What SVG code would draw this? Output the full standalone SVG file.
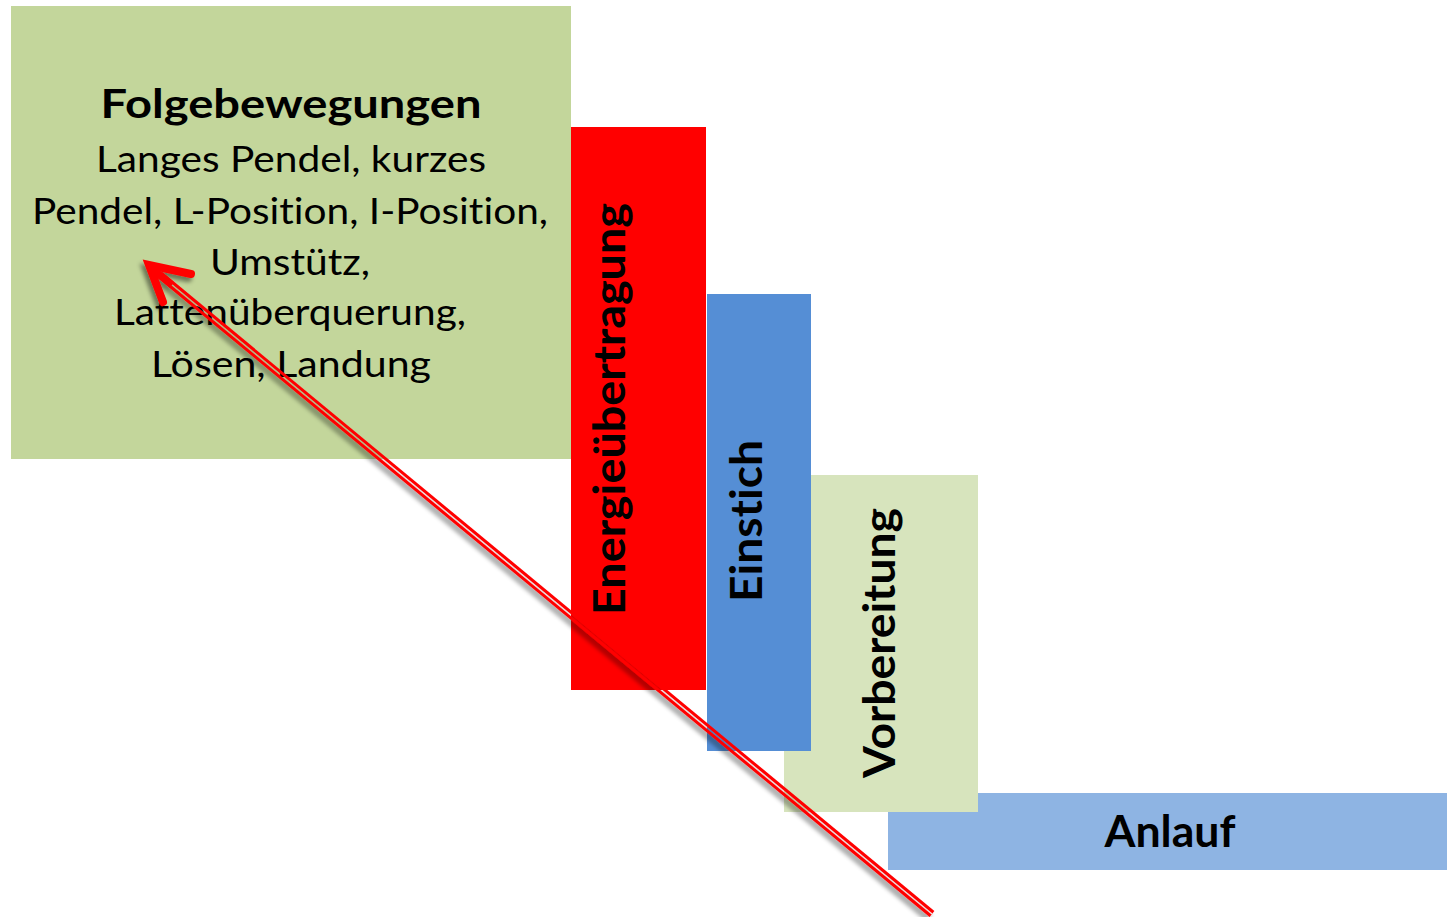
<svg xmlns="http://www.w3.org/2000/svg" width="1447" height="917" viewBox="0 0 1447 917">
<style>
.t{font-family:Lato,"Open Sans","Liberation Sans",sans-serif;fill:#000;font-variant-ligatures:none;font-feature-settings:"liga" 0}
.b{font-weight:bold}
.n{font-size:36px}
.v{font-size:44px;font-weight:bold}
</style>
<defs>
<filter id="sh" x="-10%" y="-10%" width="120%" height="120%">
<feDropShadow dx="-3" dy="4" stdDeviation="2" flood-color="#000" flood-opacity="0.45"/>
</filter>
<mask id="gap" maskUnits="userSpaceOnUse" x="0" y="0" width="1447" height="917">
<rect x="0" y="0" width="1447" height="917" fill="#fff"/>
<line x1="932" y1="914" x2="160" y2="275" stroke="#000" stroke-width="1.5"/>
</mask>
</defs>
<rect width="1447" height="917" fill="#fff"/>
<g id="anlauf">
<rect x="888" y="793" width="559" height="77" fill="#8EB4E3"/>
<text class="t b" x="1170" y="847" font-size="44" text-anchor="middle" textLength="131" lengthAdjust="spacingAndGlyphs">Anlauf</text>
</g>
<g id="vorbereitung">
<rect x="784" y="475" width="194" height="337" fill="#D7E4BD"/>
<text class="t v" transform="translate(895,643) rotate(-90)" text-anchor="middle" textLength="270" lengthAdjust="spacingAndGlyphs">Vorbereitung</text>
</g>
<g id="einstich">
<rect x="707" y="294" width="104" height="457" fill="#558ED5"/>
<text class="t v" transform="translate(762,521) rotate(-90)" text-anchor="middle" textLength="162" lengthAdjust="spacingAndGlyphs">Einstich</text>
</g>
<g id="energie">
<rect x="571" y="127" width="135" height="563" fill="#FF0000"/>
<text class="t v" transform="translate(625,409) rotate(-90)" text-anchor="middle" textLength="412" lengthAdjust="spacingAndGlyphs">Energieübertragung</text>
</g>
<g id="folgebewegungen">
<rect x="11" y="6" width="560" height="453" fill="#C3D69B"/>
<text class="t b" x="291" y="118" font-size="40" text-anchor="middle" textLength="381" lengthAdjust="spacingAndGlyphs">Folgebewegungen</text>
<text class="t n" x="291" y="172" text-anchor="middle" textLength="390" lengthAdjust="spacingAndGlyphs">Langes Pendel, kurzes</text>
<text class="t n" x="290" y="224" text-anchor="middle" textLength="516" lengthAdjust="spacingAndGlyphs">Pendel, L-Position, I-Position,</text>
<text class="t n" x="290" y="275" text-anchor="middle" textLength="160" lengthAdjust="spacingAndGlyphs">Umstütz,</text>
<text class="t n" x="290" y="325" text-anchor="middle" textLength="352" lengthAdjust="spacingAndGlyphs">Lattenüberquerung,</text>
<text class="t n" x="291" y="377" text-anchor="middle" textLength="280" lengthAdjust="spacingAndGlyphs">Lösen, Landung</text>
</g>
<g id="connectors" filter="url(#sh)">
<line x1="932" y1="914" x2="160" y2="275" stroke="#FF0000" stroke-width="7.5" mask="url(#gap)"/>
<polyline points="191,274 149,265 163,302" fill="none" stroke="#FF0000" stroke-width="8" stroke-linecap="round" stroke-linejoin="miter"/>
<line x1="172" y1="285" x2="150" y2="267" stroke="#FF0000" stroke-width="7"/>
</g>
</svg>
